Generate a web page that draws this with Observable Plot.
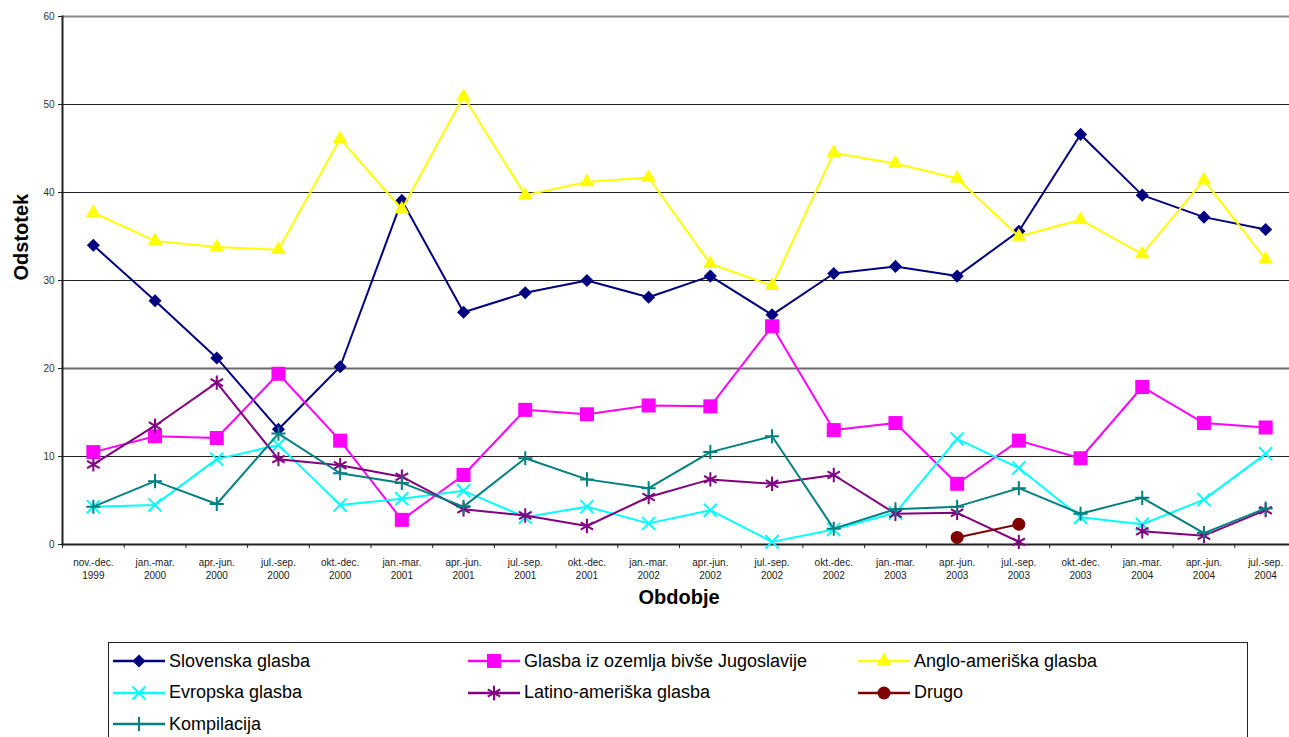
<!DOCTYPE html>
<html>
<head>
<meta charset="utf-8">
<script src="https://cdn.jsdelivr.net/npm/d3@7"></script>
<script src="https://cdn.jsdelivr.net/npm/@observablehq/plot@0.6"></script>
<style>
  html, body { margin: 0; padding: 0; background: #fff; overflow: hidden; }
  body { font-family: "Liberation Sans", Arial, sans-serif; position: relative; width: 1289px; height: 737px; }
  #chart { position: absolute; left: 0; top: 0; }
  #legend {
    position: absolute; left: 108px; top: 642px; width: 1140px; height: 130px;
    border: 1px solid #222; box-sizing: border-box; background: #fff;
  }
  .item { position: absolute; display: flex; align-items: center; height: 32px; font-size: 18px; color: #000; white-space: nowrap; }
  .item svg { display: block; margin-right: 4px; }
</style>
</head>
<body>
<div id="chart"></div>
<div id="legend"></div>
<script>
// Quarterly periods (x axis)
const periods = [
  "nov.-dec.\n1999", "jan.-mar.\n2000", "apr.-jun.\n2000", "jul.-sep.\n2000", "okt.-dec.\n2000",
  "jan.-mar.\n2001", "apr.-jun.\n2001", "jul.-sep.\n2001", "okt.-dec.\n2001",
  "jan.-mar.\n2002", "apr.-jun.\n2002", "jul.-sep.\n2002", "okt.-dec.\n2002",
  "jan.-mar.\n2003", "apr.-jun.\n2003", "jul.-sep.\n2003", "okt.-dec.\n2003",
  "jan.-mar.\n2004", "apr.-jun.\n2004", "jul.-sep.\n2004"
];

// Share of airplay (%) per music origin
const slovenska      = [34.0, 27.7, 21.2, 13.1, 20.2, 39.1, 26.4, 28.6, 30.0, 28.1, 30.5, 26.1, 30.8, 31.6, 30.5, 35.6, 46.6, 39.7, 37.2, 35.8];
const jugoslavija    = [10.5, 12.3, 12.1, 19.4, 11.8, 2.8, 7.9, 15.3, 14.8, 15.8, 15.7, 24.8, 13.0, 13.8, 6.9, 11.8, 9.8, 17.9, 13.8, 13.3];
const angloAmeriska  = [37.7, 34.5, 33.8, 33.5, 46.1, 38.1, 50.9, 39.7, 41.2, 41.7, 31.9, 29.4, 44.5, 43.3, 41.6, 35.0, 36.9, 33.0, 41.4, 32.4];
const evropska       = [4.3, 4.5, 9.7, 11.3, 4.5, 5.2, 6.1, 3.1, 4.3, 2.4, 3.9, 0.3, 1.7, 3.6, 12.0, 8.7, 3.1, 2.3, 5.1, 10.3];
const latinoAmeriska = [9.1, 13.5, 18.4, 9.7, 9.0, 7.7, 4.0, 3.3, 2.1, 5.4, 7.4, 6.9, 7.9, 3.5, 3.6, 0.3, null, 1.5, 1.0, 3.9];
const drugo          = [null, null, null, null, null, null, null, null, null, null, null, null, null, null, 0.8, 2.3, null, null, null, null];
const kompilacija    = [4.3, 7.2, 4.6, 12.6, 8.1, 7.0, 4.3, 9.8, 7.4, 6.4, 10.5, 12.3, 1.8, 4.0, 4.3, 6.4, 3.5, 5.3, 1.3, 4.1];

const seriesNames = [
  "Slovenska glasba", "Glasba iz ozemlja bivše Jugoslavije", "Anglo-ameriška glasba",
  "Evropska glasba", "Latino-ameriška glasba", "Drugo", "Kompilacija"
];
const seriesValues = [slovenska, jugoslavija, angloAmeriska, evropska, latinoAmeriska, drugo, kompilacija];
const yTicks = [0, 10, 20, 30, 40, 50, 60];

// Line and marker styling for each series
const styles = [
  {color: "#000080", symbol: "diamond2", r: 5.9, filled: true},
  {color: "#FF00FF", symbol: "square",   r: 7.9, filled: true},
  {color: "#FFFF00", symbol: "triangle", r: 5.4, filled: true},
  {color: "#00FFFF", symbol: "times",    r: 6.0, filled: false},
  {color: "#800080", symbol: "asterisk", r: 6.8, filled: false},
  {color: "#800000", symbol: "circle",   r: 6.5, filled: true},
  {color: "#008080", symbol: "plus",     r: 4.6, filled: false}
];

const font = '"Liberation Sans", Arial, sans-serif';
const xRange = [62, 1296];
const step = (xRange[1] - xRange[0]) / periods.length;

const rowsFor = (values, name) => periods.map((p, i) => ({period: p, value: values[i], series: name}));

const seriesMarks = seriesNames.flatMap((name, k) => {
  const rows = rowsFor(seriesValues[k], name);
  const s = styles[k];
  const pts = rows.filter(d => d.value != null);
  return [
    Plot.line(rows, {x: "period", y: "value", stroke: s.color, strokeWidth: 2, curve: "linear"}),
    Plot.dot(pts, {
      x: "period", y: "value", symbol: () => s.symbol, r: s.r,
      fill: s.filled ? s.color : "none",
      stroke: s.filled ? "none" : s.color,
      strokeWidth: s.filled ? 0 : 2
    })
  ];
});

const chart = Plot.plot({
  width: 1289,
  height: 642,
  marginLeft: 62,
  marginRight: 0,
  marginTop: 16,
  marginBottom: 98,
  style: {fontFamily: font, fontSize: "10px", color: "#000", background: "#fff", overflow: "visible"},
  x: {type: "point", domain: periods, range: xRange, padding: 0.5, round: false},
  y: {domain: [0, 60], range: [544, 16]},
  symbol: {type: "identity"},
  marks: [
    Plot.gridY([10, 30, 40, 50], {stroke: "#222", strokeOpacity: 1, strokeWidth: 1}),
    Plot.gridY([20], {stroke: "#6a6a6a", strokeOpacity: 1, strokeWidth: 1.8}),
    Plot.ruleY([60], {stroke: "#8a8a8a", strokeWidth: 2}),
    Plot.axisY({ticks: yTicks, tickSize: 4, tickPadding: 4, label: null, fill: "#333", stroke: "#222"}),
    // tick marks sit on the boundaries between periods
    Plot.axisX({tickSize: 4, tickFormat: () => "", dx: -step / 2, label: null, stroke: "#222"}),
    Plot.axisX({tickSize: 0, tickPadding: 12, lineHeight: 1.3, label: null, fill: "#222"}),
    Plot.ruleY([0], {stroke: "#222", strokeWidth: 2}),
    Plot.frame({anchor: "left", stroke: "#222", strokeWidth: 2}),
    ...seriesMarks,
    Plot.text(["Obdobje"], {frameAnchor: "bottom", dx: 3, dy: 59, fontSize: 20, fontWeight: "bold", fill: "#000"}),
    Plot.text(["Odstotek"], {frameAnchor: "left", dx: -41, rotate: -90, fontSize: 20, fontWeight: "bold", fill: "#000"})
  ]
});
document.getElementById("chart").appendChild(chart);

// Legend: line sample with the series marker, three columns
const legend = d3.select("#legend");
const symbolTypes = {
  diamond2: d3.symbolDiamond2, square: d3.symbolSquare, triangle: d3.symbolTriangle,
  times: d3.symbolTimes, asterisk: d3.symbolAsterisk, circle: d3.symbolCircle, plus: d3.symbolPlus
};
const colLeft = [4, 359, 749];
seriesNames.forEach((name, k) => {
  const s = styles[k];
  const item = legend.append("div").attr("class", "item")
    .style("left", colLeft[k % 3] + "px")
    .style("top", (2 + Math.floor(k / 3) * 31.5) + "px");
  const svg = item.append("svg").attr("width", 52).attr("height", 20);
  svg.append("line").attr("x1", 0).attr("x2", 52).attr("y1", 10).attr("y2", 10)
    .attr("stroke", s.color).attr("stroke-width", 2.5);
  svg.append("path")
    .attr("transform", "translate(26,10)")
    .attr("d", d3.symbol(symbolTypes[s.symbol], Math.PI * s.r * s.r)())
    .attr("fill", s.filled ? s.color : "none")
    .attr("stroke", s.filled ? "none" : s.color)
    .attr("stroke-width", 2);
  item.append("span").text(name);
});
</script>
</body>
</html>
